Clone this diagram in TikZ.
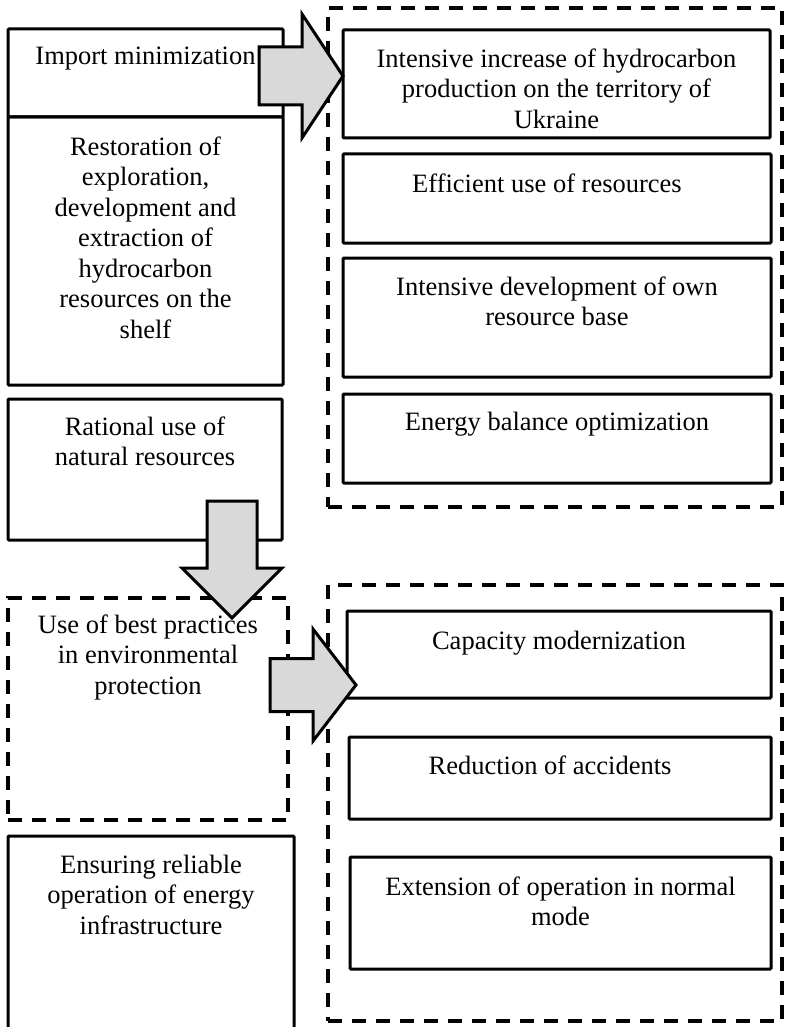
\documentclass[tikz,border=0pt]{standalone}
\usepackage{fontspec}
\setmainfont{Liberation Serif}
\usetikzlibrary{positioning}
\tikzset{
  solidbox/.style={draw, line width=3pt, rounded corners=1pt, inner sep=0pt},
  dashbox/.style={draw, line width=3.2pt, dash pattern=on 14pt off 10pt, inner sep=0pt},
  boxtext/.style={align=center, inner sep=0pt, font=\fontsize{26.5}{30.5}\selectfont},
  blockarrow/.style={draw, line width=3pt, fill=gray!30, line join=miter}
}
\begin{document}
\begin{tikzpicture}[x=1pt, y=-1pt]
  \useasboundingbox (0,0) rectangle (784,1027);
  \clip (0,0) rectangle (784,1027);
  % dashed groups
  \node[dashbox, minimum width=454pt, minimum height=499pt] (topgroup) at (555,257.5) {};
  \node[dashbox, minimum width=454pt, minimum height=436pt] (lowgroup) at (555,803) {};
  % left column
  \node[solidbox, minimum width=275pt, minimum height=88pt] (imp) at (145.5,73) {};
  \node[boxtext, below=19pt of imp.north] (imptext) {Import minimization};
  \node[solidbox, minimum width=275pt, minimum height=268pt] (shelf) at (145.5,251) {};
  \node[boxtext, below=21pt of shelf.north] (shelftext) {Restoration of\\exploration,\\development and\\extraction of\\hydrocarbon\\resources on the\\shelf};
  \node[solidbox, minimum width=274pt, minimum height=141pt] (rat) at (145,469.5) {};
  \node[boxtext, below=19pt of rat.north] (rattext) {Rational use of\\natural resources};
  \node[dashbox, minimum width=280pt, minimum height=222pt] (best) at (148,709) {};
  \node[boxtext, below=18pt of best.north] (besttext) {Use of best practices\\in environmental\\protection};
  \node[solidbox, minimum width=286pt, minimum height=204pt] (ens) at (151,938) {};
  \node[boxtext, below=20pt of ens.north] (enstext) {Ensuring reliable\\operation of energy\\infrastructure};
  % right column, upper group
  \node[solidbox, minimum width=427pt, minimum height=108pt] (inc) at (556.5,84) {};
  \node[boxtext, below=20pt of inc.north] (inctext) {Intensive increase of hydrocarbon\\production on the territory of\\Ukraine};
  \node[solidbox, minimum width=428pt, minimum height=89pt] (eff) at (557,198.5) {};
  \node[boxtext, below=21pt of eff.north, xshift=-10pt] (efftext) {Efficient use of resources};
  \node[solidbox, minimum width=428pt, minimum height=119pt] (dev) at (557,317.5) {};
  \node[boxtext, below=20pt of dev.north] (devtext) {Intensive development of own\\resource base};
  \node[solidbox, minimum width=428pt, minimum height=89pt] (bal) at (557,438.5) {};
  \node[boxtext, below=19pt of bal.north] (baltext) {Energy balance optimization};
  % right column, lower group
  \node[solidbox, minimum width=424pt, minimum height=87pt] (cap) at (559,654.5) {};
  \node[boxtext, below=21pt of cap.north] (captext) {Capacity modernization};
  \node[solidbox, minimum width=422pt, minimum height=82pt] (acc) at (560,778) {};
  \node[boxtext, below=20pt of acc.north, xshift=-10pt] (acctext) {Reduction of accidents};
  \node[solidbox, minimum width=421pt, minimum height=112pt] (ext) at (560.5,913) {};
  \node[boxtext, below=21pt of ext.north] (exttext) {Extension of operation in normal\\mode};
  % block arrows
  \draw[blockarrow] (259,47) -- (302,47) -- (302,14) -- (343,76) -- (302,138) -- (302,105) -- (259,105) -- cycle;
  \draw[blockarrow] (207,501) -- (257,501) -- (257,568) -- (282,568) -- (232,618) -- (182,568) -- (207,568) -- cycle;
  \draw[blockarrow] (270,658.5) -- (313,658.5) -- (313,629) -- (356,685) -- (313,741) -- (313,711.5) -- (270,711.5) -- cycle;
\end{tikzpicture}
\end{document}
